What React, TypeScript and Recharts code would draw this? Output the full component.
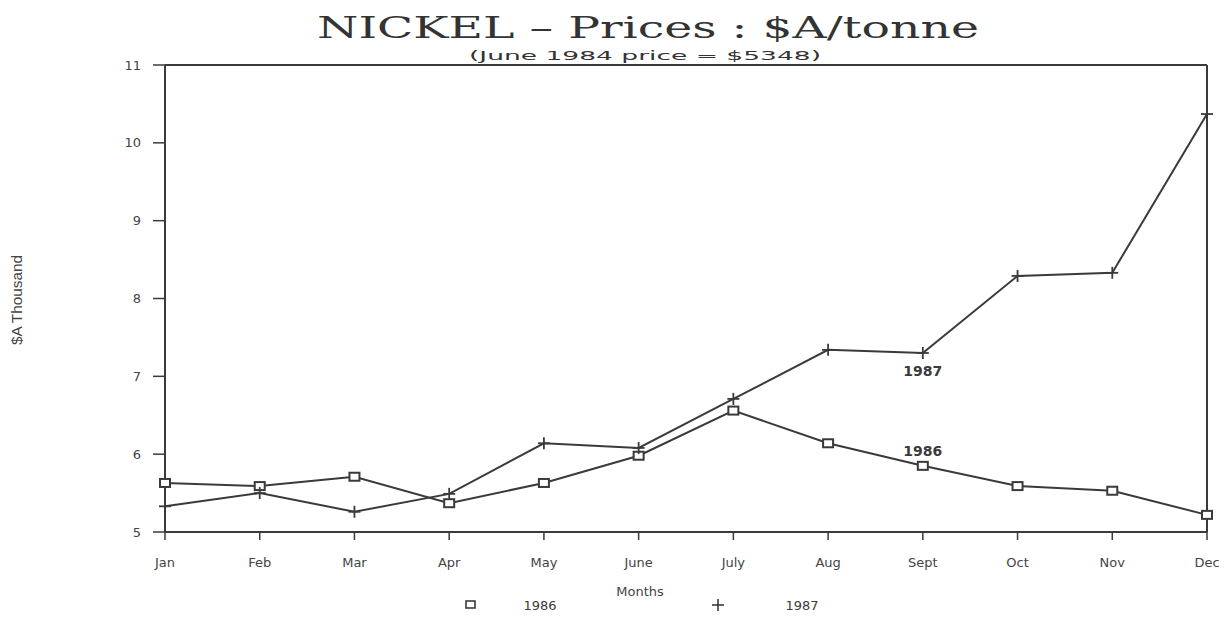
import React from "react";
import {
  LineChart,
  Line,
  XAxis,
  YAxis,
  ReferenceLine,
  Legend,
} from "recharts";

const months = ["Jan", "Feb", "Mar", "Apr", "May", "June", "July", "Aug", "Sept", "Oct", "Nov", "Dec"];
const prices1986 = [5.63, 5.59, 5.71, 5.37, 5.63, 5.98, 6.56, 6.14, 5.85, 5.59, 5.53, 5.22];
const prices1987 = [5.33, 5.5, 5.26, 5.49, 6.14, 6.08, 6.71, 7.34, 7.3, 8.29, 8.33, 10.37];
const yTicks = [5, 6, 7, 8, 9, 10, 11];

const data = months.map((m, i) => ({ month: m, y1986: prices1986[i], y1987: prices1987[i] }));

const INK = "#3a3a3a";
const FONT = "DejaVu Sans, sans-serif";

const SquareDot = (props: any) => {
  const { cx, cy } = props;
  if (cx == null || cy == null) return null;
  return <rect x={cx - 5} y={cy - 4} width={10} height={8} fill="#fff" stroke={INK} strokeWidth={2} />;
};

const PlusDot = (props: any) => {
  const { cx, cy } = props;
  if (cx == null || cy == null) return null;
  return (
    <g stroke={INK} strokeWidth={1.8}>
      <line x1={cx - 6} y1={cy} x2={cx + 6} y2={cy} />
      <line x1={cx} y1={cy - 6} x2={cx} y2={cy + 6} />
    </g>
  );
};

// series name written next to the Sept point
const seriesTag = (text: string, dy: number) => (props: any) => {
  const { x, y, index } = props;
  if (index !== 8) return null;
  return (
    <text x={x} y={y + dy} textAnchor="middle" fontFamily={FONT} fontSize={14} fill={INK} fontWeight="bold">
      {text}
    </text>
  );
};

const LegendBox = () => (
  <svg width={1227} height={20} style={{ display: "block" }}>
    <rect x={466} y={6} width={9} height={7} fill="#fff" stroke={INK} strokeWidth={1.6} />
    <text x={540} y={15} textAnchor="middle" fill={INK} fontFamily={FONT} fontSize={13}>1986</text>
    <line x1={712} y1={10} x2={724} y2={10} stroke={INK} strokeWidth={1.6} />
    <line x1={718} y1={4} x2={718} y2={16} stroke={INK} strokeWidth={1.6} />
    <text x={802} y={15} textAnchor="middle" fill={INK} fontFamily={FONT} fontSize={13}>1987</text>
  </svg>
);

export default function App() {
  return (
    <div style={{ position: "absolute", left: 0, top: 0, width: 1227, height: 617, background: "#fff" }}>
      <LineChart width={1227} height={617} data={data} margin={{ top: 65, right: 20, bottom: 35, left: 105 }}>
        <XAxis
          dataKey="month"
          interval={0}
          height={30}
          padding={{ left: 0, right: 0 }}
          axisLine={{ stroke: INK, strokeWidth: 2 }}
          tickLine={{ stroke: INK, strokeWidth: 1.5 }}
          tickSize={8}
          tickMargin={18}
          tick={{ fontFamily: FONT, fontSize: 13, fill: "#444" }}
          label={{ value: "Months", position: "bottom", offset: 25, dx: -46, fontFamily: FONT, fontSize: 13, fill: "#444" }}
        />
        <YAxis
          domain={[5, 11]}
          ticks={yTicks}
          width={60}
          axisLine={{ stroke: INK, strokeWidth: 2 }}
          tickLine={{ stroke: INK, strokeWidth: 1.5 }}
          tickSize={12}
          tickMargin={12}
          tick={{ fontFamily: FONT, fontSize: 13, fill: "#444" }}
        />
        <ReferenceLine y={11} stroke={INK} strokeWidth={2} />
        <ReferenceLine x="Dec" stroke={INK} strokeWidth={2} />
        <Legend
          verticalAlign="bottom"
          height={20}
          content={() => <LegendBox />}
          wrapperStyle={{ left: 0, bottom: 2, width: 1227 }}
        />
        <Line
          dataKey="y1986"
          name="1986"
          stroke={INK}
          strokeWidth={2}
          dot={<SquareDot />}
          label={seriesTag("1986", -10)}
          isAnimationActive={false}
        />
        <Line
          dataKey="y1987"
          name="1987"
          stroke={INK}
          strokeWidth={2}
          dot={<PlusDot />}
          label={seriesTag("1987", 23)}
          isAnimationActive={false}
        />
      </LineChart>
      <svg width={1227} height={617} style={{ position: "absolute", left: 0, top: 0, pointerEvents: "none" }}>
        <text x={648} y={38} textAnchor="middle" fontFamily="DejaVu Serif, serif" fontSize={29} fill="#333" textLength={662} lengthAdjust="spacingAndGlyphs">
          NICKEL – Prices : $A/tonne
        </text>
        <text x={645} y={60} textAnchor="middle" fontFamily={FONT} fontSize={12} fill="#333" textLength={352} lengthAdjust="spacingAndGlyphs">
          (June 1984 price = $5348)
        </text>
        <text x={22} y={300} transform="rotate(-90 22 300)" textAnchor="middle" fontFamily="Liberation Sans Narrow, Liberation Sans, sans-serif" fontSize={14} fill="#444" textLength={90} lengthAdjust="spacingAndGlyphs">
          $A Thousand
        </text>
      </svg>
    </div>
  );
}
